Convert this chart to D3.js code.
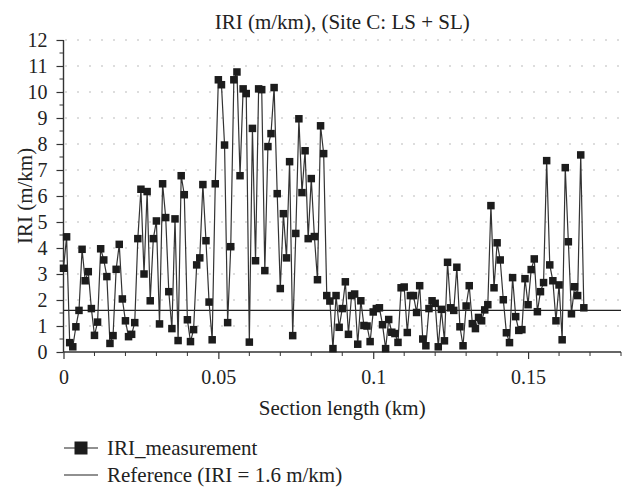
<!DOCTYPE html>
<html>
<head>
<meta charset="utf-8">
<script src="https://cdn.jsdelivr.net/npm/d3@7/dist/d3.min.js"></script>
<style>
  body { margin: 0; background: #fff; }
  svg { display: block; }
</style>
</head>
<body>
<div class="vis-iri"></div>
<script>
// section position of every measurement, in metres
const sectionMetres = [
  0, 1, 2, 3, 4, 5, 6, 7, 8, 9, 10, 11, 12, 13, 14, 15, 16, 17, 18, 19,
  20, 21, 22, 23, 24, 25, 26, 27, 28, 29, 30, 31, 32, 33, 34, 35, 36, 37, 38, 39,
  40, 41, 42, 43, 44, 45, 46, 47, 48, 49, 50, 51, 52, 53, 54, 55, 56, 57, 58, 59,
  60, 61, 62, 63, 64, 65, 66, 67, 68, 69, 70, 71, 72, 73, 74, 75, 76, 77, 78, 79,
  80, 81, 82, 83, 84, 85, 86, 87, 88, 89, 90, 91, 92, 93, 94, 95, 96, 97, 98, 99,
  100, 101, 102, 103, 104, 105, 106, 107, 108, 109, 110, 111, 112, 113, 114, 115, 116, 117, 118, 119,
  120, 121, 122, 123, 124, 125, 126, 127, 128, 129, 130, 131, 132, 133, 134, 135, 136, 137, 138, 139,
  140, 141, 142, 143, 144, 145, 146, 147, 148, 149, 150, 151, 152, 153, 154, 155, 156, 157, 158, 159,
  160, 161, 162, 163, 164, 165, 166, 167, 168
];

// IRI_measurement (m/km)
const iriValues = [
  3.22, 4.43, 0.36, 0.2, 0.97, 1.6, 3.95, 2.74, 3.09, 1.67,
  0.64, 1.15, 3.97, 3.54, 2.9, 0.33, 0.63, 3.18, 4.14, 2.04,
  1.2, 0.59, 0.68, 1.13, 4.36, 6.26, 3.0, 6.17, 1.97, 4.36,
  5.04, 1.08, 6.47, 5.17, 2.32, 0.9, 5.12, 0.44, 6.78, 6.05,
  1.24, 0.4, 0.86, 3.35, 3.62, 6.44, 4.28, 1.92, 0.47, 6.47,
  10.47, 10.28, 7.96, 1.13, 4.05, 10.47, 10.77, 6.78, 10.12, 9.94,
  0.38, 8.6, 3.51, 10.12, 10.09, 3.13, 7.9, 8.4, 10.17, 6.09,
  2.44, 5.32, 3.62, 7.32, 0.63, 4.56, 8.97, 6.13, 7.74, 4.36,
  6.67, 4.44, 2.78, 8.7, 7.63, 2.17, 1.96, 0.13, 2.17, 0.95,
  1.67, 2.7, 0.68, 2.17, 2.23, 0.3, 1.97, 1.02, 1.0, 0.4,
  1.54, 1.67, 1.7, 1.05, 0.13, 1.25, 0.76, 0.71, 0.37, 2.47,
  2.5, 0.75, 2.17, 2.17, 1.52, 2.55, 0.5, 0.24, 1.67, 1.97,
  1.87, 0.2, 1.64, 0.43, 3.45, 1.7, 1.6, 3.26, 0.97, 0.24,
  1.77, 2.55, 1.09, 0.9, 1.33, 1.2, 1.62, 1.82, 5.63, 2.47,
  4.2, 3.54, 2.01, 0.74, 0.36, 2.86, 1.36, 0.83, 0.86, 2.82,
  1.82, 3.17, 3.58, 1.55, 2.32, 2.67, 7.36, 3.35, 2.74, 1.2,
  2.58, 0.47, 7.09, 4.24, 1.47, 2.51, 2.17, 7.58, 1.7
];

const referenceIRI = 1.6;
const xTickLabels = [0, 0.05, 0.1, 0.15];
const xMinorTicks = [0.01, 0.02, 0.03, 0.04, 0.06, 0.07, 0.08, 0.09, 0.11, 0.12, 0.13, 0.14, 0.16, 0.17, 0.18];
const yTickLabels = [0, 1, 2, 3, 4, 5, 6, 7, 8, 9, 10, 11, 12];
const yMinorTicks = [0.5, 1.5, 2.5, 3.5, 4.5, 5.5, 6.5, 7.5, 8.5, 9.5, 10.5, 11.5];
const legendLabels = ["IRI_measurement", "Reference (IRI = 1.6 m/km)"];

const width = 624;
const height = 490;
const margin = { top: 40, right: 3, bottom: 138, left: 63.5 };
const serif = '"Liberation Serif", "DejaVu Serif", "Times New Roman", Times, serif';

const data = iriValues.map((v, i) => ({ km: sectionMetres[i] / 1000, iri: v }));

const svg = d3
  .select(".vis-iri")
  .append("svg")
  .attr("width", width)
  .attr("height", height);

const xScale = d3
  .scaleLinear()
  .domain([0, 0.18])
  .range([margin.left, width - margin.right]);

const yScale = d3
  .scaleLinear()
  .domain([0, 12])
  .range([height - margin.bottom, margin.top]);

// dotted grid
svg
  .append("g")
  .selectAll("line")
  .data(yTickLabels.filter((d) => d > 0))
  .enter()
  .append("line")
  .attr("x1", xScale(0) + 2)
  .attr("x2", xScale(0.18))
  .attr("y1", (d) => yScale(d))
  .attr("y2", (d) => yScale(d))
  .attr("stroke", "#777")
  .attr("stroke-width", 1)
  .attr("stroke-dasharray", "1,11");

// reference line
svg
  .append("line")
  .attr("x1", xScale(0))
  .attr("x2", xScale(0.18))
  .attr("y1", yScale(referenceIRI))
  .attr("y2", yScale(referenceIRI))
  .attr("stroke", "#222")
  .attr("stroke-width", 1.3);

// axes
const xAxis = svg
  .append("g")
  .attr("transform", `translate(0,${yScale(0)})`)
  .call(
    d3.axisBottom(xScale)
      .tickValues(xTickLabels)
      .tickSize(7)
      .tickPadding(11)
      .tickFormat((d) => (d === 0 ? "0" : d3.format("")(d)))
  );
xAxis
  .append("g")
  .selectAll("line")
  .data(xMinorTicks)
  .enter()
  .append("line")
  .attr("x1", (d) => xScale(d))
  .attr("x2", (d) => xScale(d))
  .attr("y1", 0)
  .attr("y2", 4)
  .attr("stroke", "#333");

const yAxis = svg
  .append("g")
  .attr("transform", `translate(${xScale(0)},0)`)
  .call(d3.axisLeft(yScale).tickValues(yTickLabels).tickSize(7).tickPadding(9));
yAxis
  .append("g")
  .selectAll("line")
  .data(yMinorTicks)
  .enter()
  .append("line")
  .attr("x1", 0)
  .attr("x2", -4)
  .attr("y1", (d) => yScale(d))
  .attr("y2", (d) => yScale(d))
  .attr("stroke", "#333");

[xAxis, yAxis].forEach((ax) => {
  ax.attr("font-family", serif).attr("font-size", 20);
  ax.select(".domain").attr("stroke", "#333").attr("stroke-width", 1.4);
  ax.selectAll(".tick line").attr("stroke", "#333").attr("stroke-width", 1.2);
  ax.selectAll("text").attr("fill", "#222");
});
xAxis.select(".domain").attr("d", `M${xScale(0)},0H${xScale(0.18)}`);
yAxis.select(".domain").attr("d", `M0,${yScale(0)}V${yScale(12)}`);

// measurement line + markers
const line = d3
  .line()
  .x((d) => xScale(d.km))
  .y((d) => yScale(d.iri));

svg
  .append("path")
  .datum(data)
  .attr("d", line)
  .attr("fill", "none")
  .attr("stroke", "#333")
  .attr("stroke-width", 1.2);

const sq = 7.5;
svg
  .append("g")
  .selectAll("rect")
  .data(data)
  .enter()
  .append("rect")
  .attr("x", (d) => xScale(d.km) - sq / 2)
  .attr("y", (d) => yScale(d.iri) - sq / 2)
  .attr("width", sq)
  .attr("height", sq)
  .attr("fill", "#1c1c1c");

// titles
const midX = (xScale(0) + xScale(0.18)) / 2;
svg
  .append("text")
  .attr("x", midX)
  .attr("y", 29)
  .attr("text-anchor", "middle")
  .attr("font-size", 21)
  .text("IRI (m/km), (Site C: LS + SL)");

svg
  .append("text")
  .attr("x", midX)
  .attr("y", 415)
  .attr("text-anchor", "middle")
  .attr("font-size", 21)
  .text("Section length (km)");

svg
  .append("text")
  .attr("transform", `translate(32,${(yScale(0) + yScale(12)) / 2}) rotate(-90)`)
  .attr("text-anchor", "middle")
  .attr("font-size", 21)
  .text("IRI (m/km)");

// legend
const legend = svg.append("g").attr("transform", "translate(64,0)");
const legendY = [448, 475];
legend
  .selectAll("line")
  .data(legendLabels)
  .enter()
  .append("line")
  .attr("x1", 0)
  .attr("x2", 34)
  .attr("y1", (d, i) => legendY[i])
  .attr("y2", (d, i) => legendY[i])
  .attr("stroke", "#222")
  .attr("stroke-width", 1.2);
legend
  .append("rect")
  .attr("x", 17 - 6.5)
  .attr("y", legendY[0] - 6.5)
  .attr("width", 13)
  .attr("height", 13)
  .attr("fill", "#1c1c1c");
legend
  .selectAll("text")
  .data(legendLabels)
  .enter()
  .append("text")
  .attr("x", 43)
  .attr("y", (d, i) => legendY[i] + 7)
  .attr("font-size", 21)
  .text((d) => d);

svg.selectAll(":scope > text, :scope > g > text")
  .attr("font-family", serif)
  .attr("fill", "#222");
</script>
</body>
</html>
